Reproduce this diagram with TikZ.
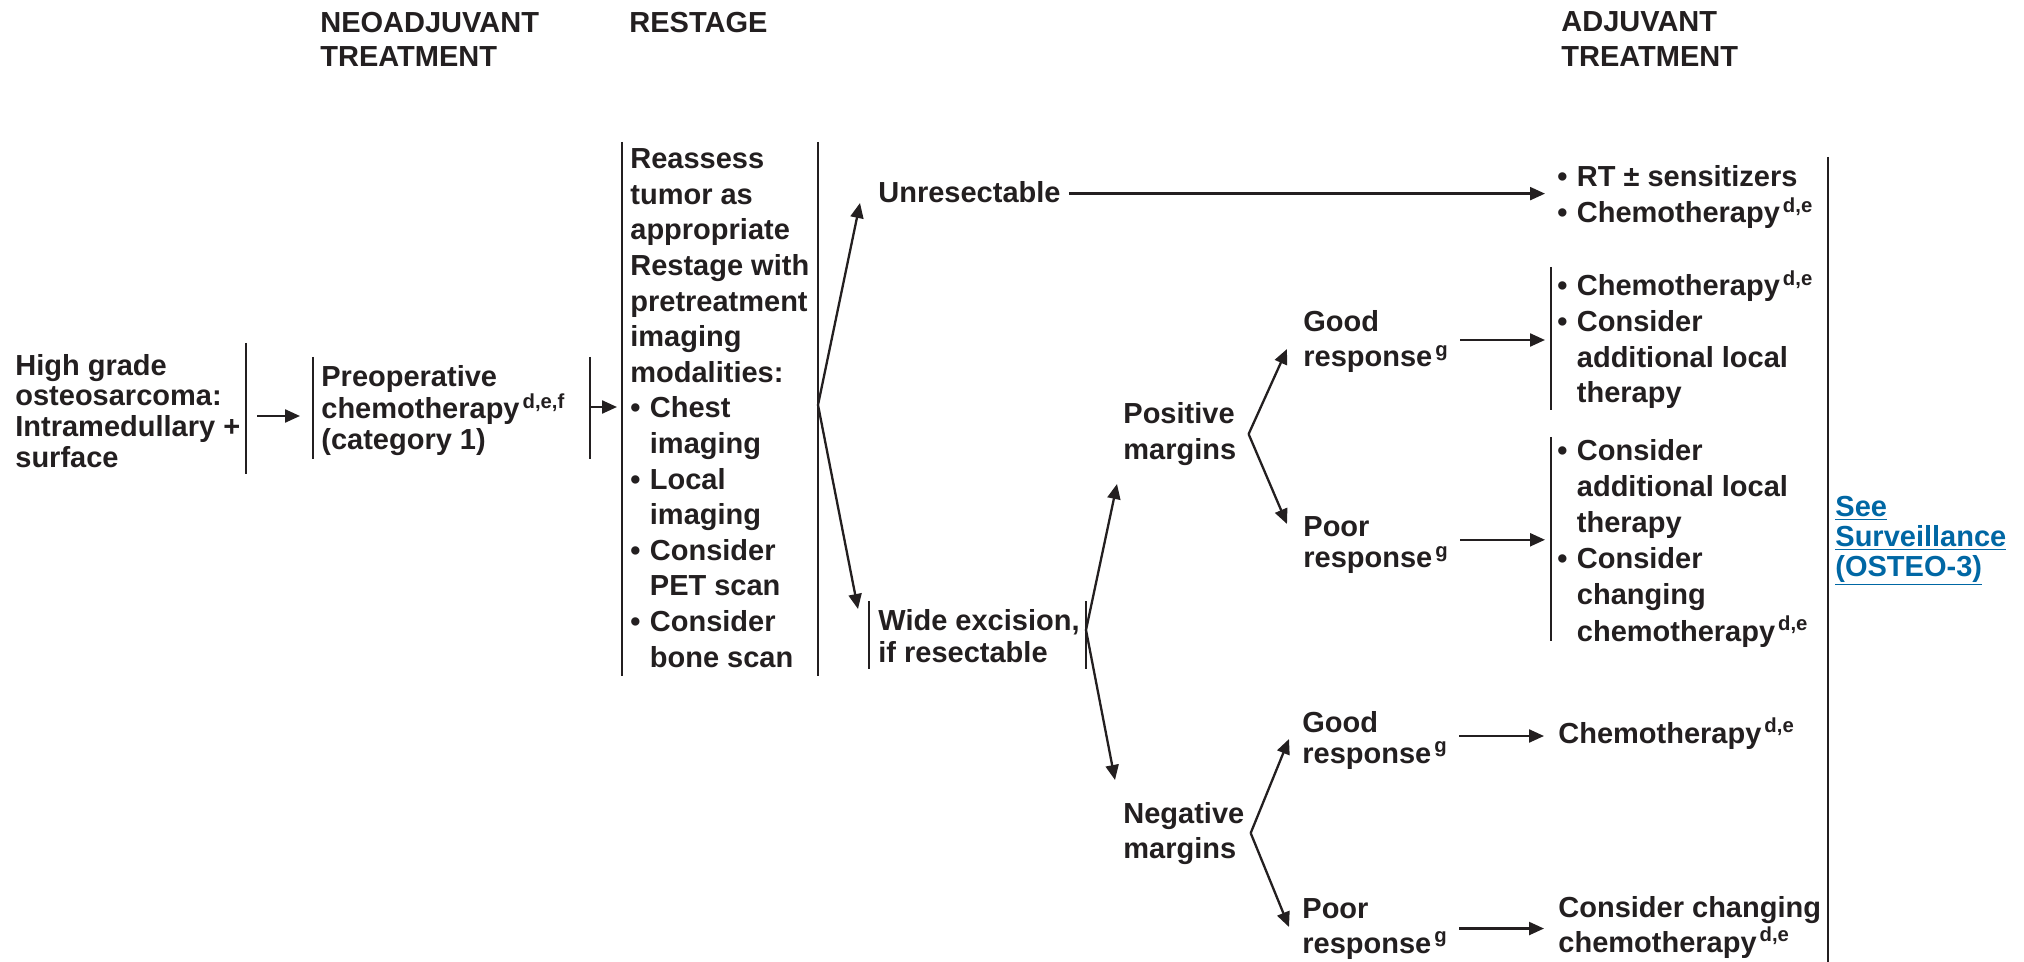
\documentclass[tikz,border=0pt]{standalone}
\usepackage{fontspec}
\setmainfont{Liberation Sans}
\usetikzlibrary{arrows.meta,positioning,calc}
\definecolor{ink}{RGB}{35,31,32}
\definecolor{linkblue}{RGB}{0,103,164}
\newcommand{\fnote}[1]{\hspace{1.5pt}\textsuperscript{#1}}
\newlength{\bulw}\setlength{\bulw}{9.75pt}
\newcommand{\bul}{\makebox[\bulw][l]{\textbullet}}
\newcommand{\ind}{\hspace*{\bulw}}

\begin{document}
\begin{tikzpicture}[x=0.5pt, y=-0.5pt,
            txt/.style={anchor=base west, inner sep=0pt, align=left, text=ink, font=\fontsize{14.5}{17.5}\selectfont\bfseries},
            spaced/.style={font=\fontsize{14.5}{#1}\selectfont\bfseries},
            link/.style={text=linkblue},
            bar/.style={draw=ink, line width=1.45pt},
            arrow/.style={draw=ink, line width=1.15pt, -{Triangle[length=7.5pt,width=6.5pt]}}
        ]
        \useasboundingbox (0,0) rectangle (2024,962);

        % Column headings (nodes sit on the baseline of their last line)
        \node[txt, spaced=17pt] (hneo) at (320,67) {NEOADJUVANT\\TREATMENT};
        \node[txt] (hrest) at (629,33) {RESTAGE};
        \node[txt] (hadj) at (1561,67) {ADJUVANT\\TREATMENT};

        % Left part
        \node[txt, spaced=15.3pt] (diag) at (15,467) {High grade\\osteosarcoma:\\Intramedullary +\\surface};
        \node[txt, spaced=15.75pt] (preop) at (321,450) {Preoperative\\chemotherapy\fnote{d,e,f}\\(category 1)};
        \node[txt, spaced=17.8pt] (restage) at (630,667) {Reassess\\tumor as\\appropriate\\Restage with\\pretreatment\\imaging\\modalities:\\\bul Chest\\\ind imaging\\\bul Local\\\ind imaging\\\bul Consider\\\ind PET scan\\\bul Consider\\\ind bone scan};

        % Middle part
        \node[txt] (unres) at (878,203) {Unresectable};
        \node[txt, spaced=16pt] (wide) at (878,662) {Wide excision,\\if resectable};
        \node[txt] (posm) at (1123,459) {Positive\\margins};
        \node[txt] (negm) at (1123,858) {Negative\\margins};
        \node[txt] (goodA) at (1303,367) {Good\\response\fnote{g}};
        \node[txt, spaced=15.75pt] (poorA) at (1303,567.5) {Poor\\response\fnote{g}};
        \node[txt, spaced=15.5pt] (goodB) at (1302,763) {Good\\response\fnote{g}};
        \node[txt] (poorB) at (1302,953) {Poor\\response\fnote{g}};

        % Adjuvant treatment
        \node[txt, spaced=18pt] (rtchemo) at (1557,223) {\bul RT ± sensitizers\\\bul Chemotherapy\fnote{d,e}};
        \node[txt, spaced=17.85pt] (chemoA) at (1557,403) {\bul Chemotherapy\fnote{d,e}\\\bul Consider\\\ind additional local\\\ind therapy};
        \node[txt, spaced=18.1pt] (chemoB) at (1557,641) {\bul Consider\\\ind additional local\\\ind therapy\\\bul Consider\\\ind changing\\\ind chemotherapy\fnote{d,e}};
        \node[txt] (chemoC) at (1558,743) {Chemotherapy\fnote{d,e}};
        \node[txt] (changeC) at (1558,952) {Consider changing\\chemotherapy\fnote{d,e}};
        \node[txt, spaced=15pt, link] (surv) at (1835,576) {\underline{See}\\\underline{Surveillance}\\\underline{(OSTEO-3)}};

        % Bars
        \draw[bar] (246,343) -- (246,474);
        \draw[bar] (313,357) -- (313,459);
        \draw[bar] (590,357) -- (590,459);
        \draw[bar] (622,142) -- (622,676);
        \draw[bar] (818,142) -- (818,676);
        \draw[bar] (869,601) -- (869,669);
        \draw[bar] (1086,601) -- (1086,669);
        \draw[bar] (1551,267) -- (1551,410);
        \draw[bar] (1551,437) -- (1551,641);
        \draw[bar] (1828,157) -- (1828,962);

        % Forks
        \coordinate (rsfork) at (818,405);
        \coordinate (wdfork) at (1086,630);
        \coordinate (psfork) at ([xshift=6pt]posm.east);
        \coordinate (ngfork) at ([xshift=3pt]negm.east);

        \draw[arrow] (rsfork) -- ([xshift=-9pt]unres.base west);
        \draw[arrow] (rsfork) -- ([xshift=-10pt,yshift=26.5pt]wide.base west);
        \draw[arrow] (wdfork) -- ([xshift=-3pt,yshift=-12.5pt]posm.base west);
        \draw[arrow] (wdfork) -- ([xshift=-4pt,yshift=39pt]negm.base west);
        \draw[arrow] (psfork) -- ([xshift=-8pt,yshift=9pt]goodA.base west);
        \draw[arrow] (psfork) -- ([xshift=-8pt,yshift=21.75pt]poorA.base west);
        \draw[arrow] (ngfork) -- ([xshift=-6.5pt,yshift=12pt]goodB.base west);
        \draw[arrow] (ngfork) -- ([xshift=-6.5pt,yshift=13pt]poorB.base west);

        % Main flow
        \coordinate (dgR) at (246,416);
        \draw[arrow] ([xshift=5.5pt]dgR) -- ([xshift=-10.5pt]dgR -| preop.west);
        \coordinate (ppR) at (590,407);
        \draw[arrow] (ppR) -- ([xshift=-6.5pt]ppR -| restage.west);
        \draw[arrow] ([xshift=4pt,yshift=-0.5pt]unres.east) -- ([xshift=-6pt,yshift=-0.5pt]unres.east -| rtchemo.west);

        % Response to treatment
        \coordinate (gAo) at ([xshift=5.5pt,yshift=1pt]goodA.east);
        \draw[arrow] (gAo) -- ([xshift=-6pt]gAo -| chemoA.west);
        \coordinate (pAo) at ([xshift=5.5pt,yshift=2.5pt]poorA.east);
        \draw[arrow] (pAo) -- ([xshift=-6pt]pAo -| chemoB.west);
        \coordinate (gBo) at ([xshift=5.5pt,yshift=2pt]goodB.east);
        \draw[arrow] (gBo) -- ([xshift=-7pt]gBo -| chemoC.west);
        \coordinate (pBo) at ([xshift=5.5pt]poorB.east);
        \draw[arrow] (pBo) -- ([xshift=-7pt]pBo -| changeC.west);

    \end{tikzpicture}
\end{document}
